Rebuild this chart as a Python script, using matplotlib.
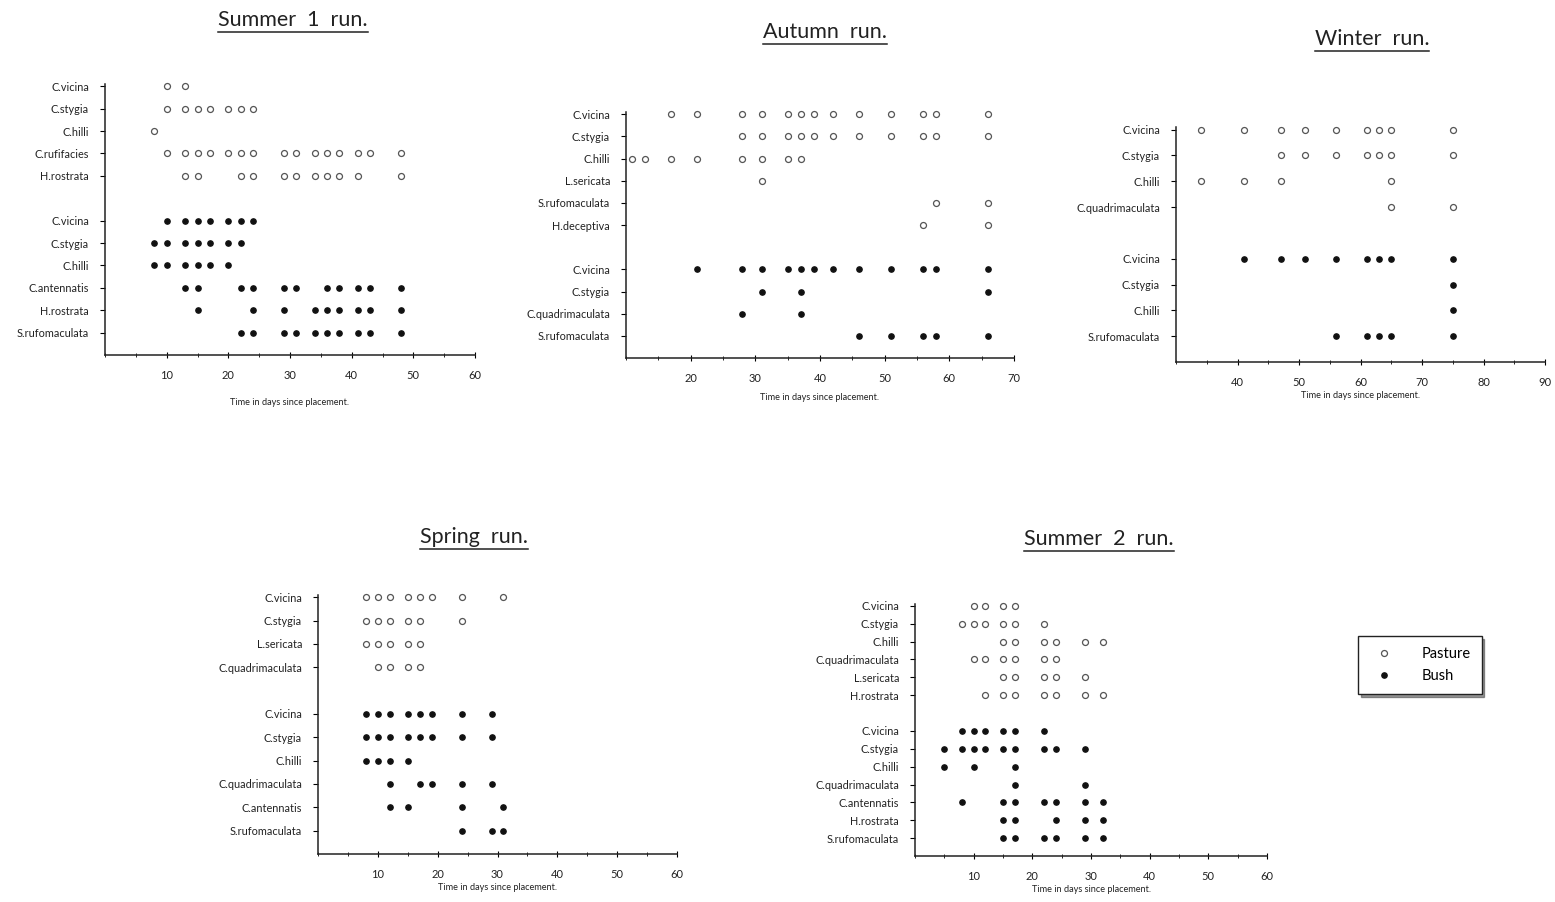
import matplotlib
matplotlib.use("Agg")
import matplotlib.pyplot as plt
from matplotlib.lines import Line2D
from matplotlib.ticker import MultipleLocator

plt.rcParams['font.family'] = ['Lato', 'DejaVu Sans']

# --- Summer 1 run ---
summer1_pasture_species = ["C.vicina", "C.stygia", "C.hilli", "C.rufifacies", "H.rostrata"]
summer1_pasture_days = [
    [10, 13],
    [10, 13, 15, 17, 20, 22, 24],
    [8],
    [10, 13, 15, 17, 20, 22, 24, 29, 31, 34, 36, 38, 41, 43, 48],
    [13, 15, 22, 24, 29, 31, 34, 36, 38, 41, 48],
]
summer1_bush_species = ["C.vicina", "C.stygia", "C.hilli", "C.antennatis", "H.rostrata", "S.rufomaculata"]
summer1_bush_days = [
    [10, 13, 15, 17, 20, 22, 24],
    [8, 10, 13, 15, 17, 20, 22],
    [8, 10, 13, 15, 17, 20],
    [13, 15, 22, 24, 29, 31, 36, 38, 41, 43, 48],
    [15, 24, 29, 34, 36, 38, 41, 43, 48],
    [22, 24, 29, 31, 34, 36, 38, 41, 43, 48],
]

# --- Autumn run ---
autumn_pasture_species = ["C.vicina", "C.stygia", "C.hilli", "L.sericata", "S.rufomaculata", "H.deceptiva"]
autumn_pasture_days = [
    [17, 21, 28, 31, 35, 37, 39, 42, 46, 51, 56, 58, 66],
    [28, 31, 35, 37, 39, 42, 46, 51, 56, 58, 66],
    [11, 13, 17, 21, 28, 31, 35, 37],
    [31],
    [58, 66],
    [56, 66],
]
autumn_bush_species = ["C.vicina", "C.stygia", "C.quadrimaculata", "S.rufomaculata"]
autumn_bush_days = [
    [21, 28, 31, 35, 37, 39, 42, 46, 51, 56, 58, 66],
    [31, 37, 66],
    [28, 37],
    [46, 51, 56, 58, 66],
]

# --- Winter run ---
winter_pasture_species = ["C.vicina", "C.stygia", "C.hilli", "C.quadrimaculata"]
winter_pasture_days = [
    [34, 41, 47, 51, 56, 61, 63, 65, 75],
    [47, 51, 56, 61, 63, 65, 75],
    [34, 41, 47, 65],
    [65, 75],
]
winter_bush_species = ["C.vicina", "C.stygia", "C.hilli", "S.rufomaculata"]
winter_bush_days = [
    [41, 47, 51, 56, 61, 63, 65, 75],
    [75],
    [75],
    [56, 61, 63, 65, 75],
]

# --- Spring run ---
spring_pasture_species = ["C.vicina", "C.stygia", "L.sericata", "C.quadrimaculata"]
spring_pasture_days = [
    [8, 10, 12, 15, 17, 19, 24, 31],
    [8, 10, 12, 15, 17, 24],
    [8, 10, 12, 15, 17],
    [10, 12, 15, 17],
]
spring_bush_species = ["C.vicina", "C.stygia", "C.hilli", "C.quadrimaculata", "C.antennatis", "S.rufomaculata"]
spring_bush_days = [
    [8, 10, 12, 15, 17, 19, 24, 29],
    [8, 10, 12, 15, 17, 19, 24, 29],
    [8, 10, 12, 15],
    [12, 17, 19, 24, 29],
    [12, 15, 24, 31],
    [24, 29, 31],
]

# --- Summer 2 run ---
summer2_pasture_species = ["C.vicina", "C.stygia", "C.hilli", "C.quadrimaculata", "L.sericata", "H.rostrata"]
summer2_pasture_days = [
    [10, 12, 15, 17],
    [8, 10, 12, 15, 17, 22],
    [15, 17, 22, 24, 29, 32],
    [10, 12, 15, 17, 22, 24],
    [15, 17, 22, 24, 29],
    [12, 15, 17, 22, 24, 29, 32],
]
summer2_bush_species = ["C.vicina", "C.stygia", "C.hilli", "C.quadrimaculata", "C.antennatis", "H.rostrata", "S.rufomaculata"]
summer2_bush_days = [
    [8, 10, 12, 15, 17, 22],
    [5, 8, 10, 12, 15, 17, 22, 24, 29],
    [5, 10, 17],
    [17, 29],
    [8, 15, 17, 22, 24, 29, 32],
    [15, 17, 24, 29, 32],
    [15, 17, 22, 24, 29, 32],
]

W, H = 1555, 902
fig = plt.figure(figsize=(W / 100, H / 100), dpi=100)


def px_axes(left, right, top, bottom):
    # axes from pixel edges
    return fig.add_axes([left / W, 1 - bottom / H, (right - left) / W, (bottom - top) / H])


def draw_panel(ax, p_species, p_days, b_species, b_days, x0, x1, xlab_pad):
    n_p = len(p_species)
    n_b = len(b_species)
    for i, days in enumerate(p_days):
        ax.plot(days, [i] * len(days), 'o', ms=4.3, mfc='white', mec='#555555',
                mew=0.9, ls='none', clip_on=False)
    for j, days in enumerate(b_days):
        row = n_p + 1 + j
        ax.plot(days, [row] * len(days), 'o', ms=3.8, mfc='#111111', mec='#111111',
                ls='none', clip_on=False)
    rows = list(range(n_p)) + [n_p + 1 + j for j in range(n_b)]
    ax.set_yticks(rows)
    ax.set_yticklabels(p_species + b_species, fontsize=7.8, color='#222222')
    ax.set_ylim(n_p + n_b + 1, -0.1)
    ax.set_xlim(x0, x1)
    ax.xaxis.set_minor_locator(MultipleLocator(5))
    ticks = [t for t in range(x0 + 10, x1 + 1, 10)]
    ax.set_xticks(ticks)
    ax.set_xticklabels([str(t) for t in ticks], fontsize=8, color='#222222')
    ax.tick_params(axis='x', which='major', direction='inout', length=4, width=0.8, pad=9)
    ax.tick_params(axis='x', which='minor', direction='inout', length=2.5, width=0.6)
    ax.tick_params(axis='y', direction='out', length=3.5, width=0.8, pad=8)
    for s in ('top', 'right'):
        ax.spines[s].set_visible(False)
    for s in ('left', 'bottom'):
        ax.spines[s].set_linewidth(1.1)
        ax.spines[s].set_color('#222222')
    ax.set_xlabel("Time in days since placement.", fontsize=6.6, labelpad=xlab_pad,
                  color='#222222')
    ax.patch.set_alpha(0)


ax1 = px_axes(105, 475, 84, 355)
draw_panel(ax1, summer1_pasture_species, summer1_pasture_days,
           summer1_bush_species, summer1_bush_days, 0, 60, 12)
ax2 = px_axes(626, 1014, 112, 358)
draw_panel(ax2, autumn_pasture_species, autumn_pasture_days,
           autumn_bush_species, autumn_bush_days, 10, 70, 6)
ax3 = px_axes(1176, 1545, 127, 362)
draw_panel(ax3, winter_pasture_species, winter_pasture_days,
           winter_bush_species, winter_bush_days, 30, 90, 2)
ax4 = px_axes(318, 677, 595, 854)
draw_panel(ax4, spring_pasture_species, spring_pasture_days,
           spring_bush_species, spring_bush_days, 0, 60, 2)
ax5 = px_axes(915, 1267, 604, 856)
draw_panel(ax5, summer2_pasture_species, summer2_pasture_days,
           summer2_bush_species, summer2_bush_days, 0, 60, 2)

# underlined panel titles
titles = [("Summer  1  run.", 293, 20), ("Autumn  run.", 825, 32),
          ("Winter  run.", 1372, 39), ("Spring  run.", 474, 537),
          ("Summer  2  run.", 1099, 539)]
renderer = fig.canvas.get_renderer()
for txt, cx, cy in titles:
    t = fig.text(cx / W, 1 - cy / H, txt, fontsize=15.5, ha='center', va='center',
                 color='#222222')
    bb = t.get_window_extent(renderer=renderer)
    y_line = (bb.y0 - 2) / H
    fig.add_artist(Line2D([bb.x0 / W, bb.x1 / W], [y_line, y_line],
                          color='#222222', lw=1.1))

handles = [
    Line2D([], [], marker='o', ls='none', ms=4.3, mfc='white', mec='#555555', mew=0.9),
    Line2D([], [], marker='o', ls='none', ms=3.8, mfc='#111111', mec='#111111'),
]
leg = fig.legend(handles, ["Pasture", "Bush"], loc='upper left',
                 bbox_to_anchor=(1358 / W, 1 - 636 / H), fontsize=10.5,
                 frameon=True, fancybox=False, shadow={'color': '#333333'},
                 edgecolor='#222222', handletextpad=1.6, borderpad=0.75,
                 labelspacing=0.55, borderaxespad=0)
leg.get_frame().set_linewidth(1.0)

fig.savefig("out.png", dpi=100)
